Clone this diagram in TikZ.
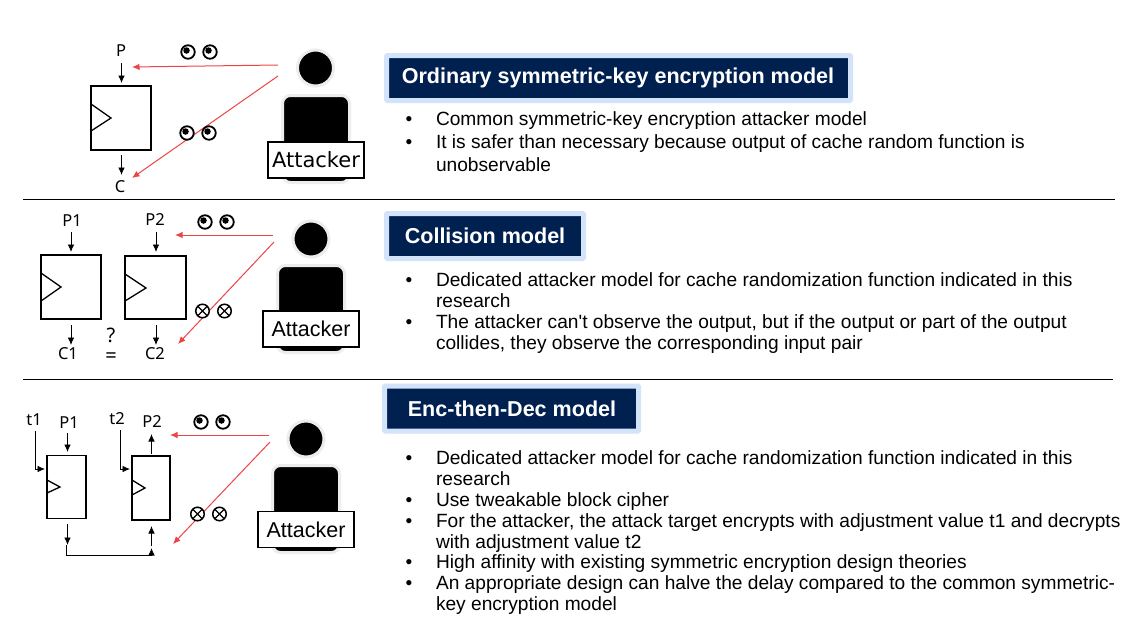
\documentclass[tikz,border=0pt]{standalone}
\usepackage{fontspec}
\setmainfont{Liberation Sans}
\newfontfamily\wideatt{DejaVu Sans}
\newfontfamily\labfont{Noto Sans}
\usetikzlibrary{arrows.meta}
\newcommand{\pxfont}[1]{\fontsize{#1}{#1}\selectfont}
\definecolor{navy}{HTML}{002050}
\definecolor{halo}{HTML}{D2E3FA}
\definecolor{redline}{HTML}{EE4444}
\tikzset{
  x=1pt,y=-1pt,
  every node/.style={inner sep=0pt,outer sep=0pt},
  block/.style={draw=black,line width=1.6pt,fill=white},
  clk/.style={draw=black,line width=1.3pt},
  flow/.style={draw=black,line width=0.8pt,-{Latex[length=7.5pt,width=6.5pt]}},
  plain/.style={draw=black,line width=0.8pt},
  attack/.style={draw=redline,line width=1pt,-{Latex[length=7.5pt,width=6.5pt]}},
  lab/.style={font=\labfont\pxfont{16.5}},
  biglab/.style={font=\labfont\pxfont{20}},
  rule/.style={draw=black,line width=0.8pt},
  head/.style={circle,fill=black,draw=black!7,line width=3pt,minimum size=36pt},
  torso/.style={rounded corners=8pt,fill=black,draw=black!7,line width=3pt},
  attbox/.style={draw=black,line width=1.6pt,fill=white,minimum width=96pt,minimum height=36pt},
  eyeball/.style={circle,draw=black,line width=1.8pt,fill=white,minimum size=13.5pt},
  pupil/.style={circle,fill=black,minimum size=6.5pt},
  nosee/.style={circle,draw=black,line width=1.5pt,fill=white,minimum size=13.5pt},
  titlebox/.style={fill=navy,draw=halo,line width=5pt,rounded corners=1pt,minimum height=45pt,anchor=west},
  titletext/.style={text=white,font=\pxfont{21.55}\bfseries},
  body/.style={anchor=base west,font=\pxfont{19.15}},
  bull/.style={anchor=base,font=\pxfont{19.15}},
}
\newcommand{\eyes}[3]{% x1,x2,y
  \node[eyeball] at (#1,#3) {}; \node[pupil] at (#1-1.5,#3-1.5) {};
  \node[eyeball] at (#2,#3) {}; \node[pupil] at (#2-1.5,#3-1.5) {};
}
\newcommand{\noeyes}[3]{%
  \foreach \cx in {#1,#2}{
    \node[nosee] at (\cx,#3) {};
    \draw[line width=1.2pt] (\cx-4.6,#3-4.6) -- (\cx+4.6,#3+4.6) (\cx-4.6,#3+4.6) -- (\cx+4.6,#3-4.6);
  }
}
\begin{document}
\begin{tikzpicture}
\useasboundingbox (0,0) rectangle (1138,627);
\fill[white] (0,0) rectangle (1138,627);

% separators
\coordinate (r1a) at (23,199); \coordinate (r1b) at (1115,199);
\coordinate (r2a) at (23,379); \coordinate (r2b) at (1113,379);
\draw[rule] (r1a) -- (r1b);
\draw[rule] (r2a) -- (r2b);

% ---------- panel 1
\node[block,minimum width=60pt,minimum height=64pt] (b1) at (121,118) {};
\draw[clk] (91,104) -- (111,118) -- (91,131);
\node[lab] (p) at (121,51) {P};
\node[lab] (c) at (120,187) {C};
\coordinate (pe) at (121.5,63); \coordinate (pf) at (121.5,83);
\coordinate (ce) at (121.5,155); \coordinate (cf) at (121.5,175);
\draw[flow] (pe) -- (pf);
\draw[flow] (ce) -- (cf);
\draw[torso] (282.5,95.5) rectangle (349.5,182.5);
\node[head] (h1) at (315.5,68) {};
\node[attbox] (a1) at (316,160) {\wideatt\pxfont{21}Attacker};
\coordinate (a1p) at (278,65); \coordinate (a1c) at (278,76);
\coordinate (t1p) at (132,67); \coordinate (t1c) at (132,178);
\draw[attack] (a1p) -- (t1p);
\draw[attack] (a1c) -- (t1c);
\eyes{188}{210}{52}
\eyes{187}{209}{133}

\node[titlebox,minimum width=464pt] (t1) at (386.5,78) {};
\node[titletext] at (618,78) {Ordinary symmetric-key encryption model};
\node[bull] at (409,125.5) {•};
\node[body] at (436,125.5) {Common symmetric-key encryption attacker model};
\node[bull] at (409,148.5) {•};
\node[body] at (436,148.5) {It is safer than necessary because output of cache random function is};
\node[body] at (436,171) {unobservable};

% ---------- panel 2
\node[block,minimum width=60pt,minimum height=64pt] (b2) at (71,287) {};
\draw[clk] (41,273) -- (61,287) -- (41,301);
\node[block,minimum width=61pt,minimum height=63pt] (b3) at (155.5,287.5) {};
\draw[clk] (125,274) -- (146,288) -- (125,301);
\node[lab] (p1) at (72,221) {P1};
\node[lab] (p2) at (155,220) {P2};
\node[lab] (c1) at (68,354) {C1};
\node[lab] (c2) at (155,354) {C2};
\node[biglab] (q) at (111,335) {?};
\node[biglab] (eq) at (111,358) {=};
\coordinate (p1e) at (71,232); \coordinate (p1f) at (71,252);
\coordinate (p2e) at (156,232); \coordinate (p2f) at (156,252);
\coordinate (c1e) at (71,325); \coordinate (c1f) at (71,345);
\coordinate (c2e) at (156,325); \coordinate (c2f) at (156,345);
\draw[flow] (p1e) -- (p1f);
\draw[flow] (p2e) -- (p2f);
\draw[flow] (c1e) -- (c1f);
\draw[flow] (c2e) -- (c2f);
\draw[torso] (277.5,265.5) rectangle (344.5,352.5);
\node[head] (h2) at (311,239) {};
\node[attbox] (a2) at (311,329) {\pxfont{21.5}\raisebox{-1pt}{Attacker}};
\coordinate (a2p) at (273,235); \coordinate (a2c) at (274,242);
\coordinate (t2p) at (175,235); \coordinate (t2c) at (178,344);
\draw[attack] (a2p) -- (t2p);
\draw[attack] (a2c) -- (t2c);
\eyes{205}{227}{222}
\noeyes{202.5}{224.5}{311}

\node[titlebox,minimum width=197pt] (t2) at (386.5,236) {};
\node[titletext] at (485,236) {Collision model};
\node[bull] at (409,286) {•};
\node[body] at (436,286) {Dedicated attacker model for cache randomization function indicated in this};
\node[body] at (436,307) {research};
\node[bull] at (409,328) {•};
\node[body] at (436,328) {The attacker can\textquotesingle t observe the output, but if the output or part of the output};
\node[body] at (436,349) {collides, they observe the corresponding input pair};

% ---------- panel 3
\node[block,minimum width=39pt,minimum height=63pt] (b4) at (66.5,487) {};
\draw[clk] (47,480) -- (60,487) -- (47,493);
\node[block,minimum width=38pt,minimum height=64pt] (b5) at (151,488) {};
\draw[clk] (132,480) -- (145,488) -- (132,495);
\node[lab] (tt1) at (34,420) {t1};
\node[lab] (tt2) at (117,419) {t2};
\node[lab] (p3) at (69,423) {P1};
\node[lab] (p4) at (152,422) {P2};
\coordinate (t1s) at (35,431); \coordinate (t1t) at (45,469);
\coordinate (t2s) at (120,430); \coordinate (t2t) at (130,469);
\draw[flow] (t1s) |- (t1t);
\draw[flow] (t2s) |- (t2t);
\coordinate (p3e) at (67.5,433); \coordinate (p3f) at (67.5,452);
\coordinate (p4e) at (151.5,454); \coordinate (p4f) at (151.5,434);
\draw[flow] (p3e) -- (p3f);
\draw[flow] (p4e) -- (p4f);
\coordinate (o1) at (67.5,524); \coordinate (o2) at (67.5,545);
\coordinate (i1) at (151.5,546); \coordinate (i2) at (151.5,526);
\coordinate (k1) at (66.5,545); \coordinate (k2) at (151.5,555); \coordinate (k3) at (151.5,548);
\draw[flow] (o1) -- (o2);
\draw[flow] (i1) -- (i2);
\draw[plain] (k1) |- (k2);
\draw[flow] (k2) -- (k3);
\draw[torso] (272.5,465.5) rectangle (339.5,552.5);
\node[head] (h3) at (306,439) {};
\node[attbox] (a3) at (306,529.5) {\pxfont{21.5}\raisebox{-1pt}{Attacker}};
\coordinate (a3p) at (269,435); \coordinate (a3c) at (270,442);
\coordinate (t3p) at (170,435); \coordinate (t3c) at (173,544);
\draw[attack] (a3p) -- (t3p);
\draw[attack] (a3c) -- (t3c);
\eyes{201}{223}{422}
\noeyes{197.5}{219.5}{514}

\node[titlebox,minimum width=254pt] (t3) at (384.5,408.5) {};
\node[titletext] at (512,408.5) {Enc-then-Dec model};
\node[bull] at (409,464) {•};
\node[body] at (436,464) {Dedicated attacker model for cache randomization function indicated in this};
\node[body] at (436,485) {research};
\node[bull] at (409,506) {•};
\node[body] at (436,506) {Use tweakable block cipher};
\node[bull] at (409,527) {•};
\node[body] at (436,527) {For the attacker, the attack target encrypts with adjustment value t1 and decrypts};
\node[body] at (436,548) {with adjustment value t2};
\node[bull] at (409,568) {•};
\node[body] at (436,568) {High affinity with existing symmetric encryption design theories};
\node[bull] at (409,589) {•};
\node[body] at (436,589) {An appropriate design can halve the delay compared to the common symmetric-};
\node[body] at (436,610) {key encryption model};
\end{tikzpicture}
\end{document}
